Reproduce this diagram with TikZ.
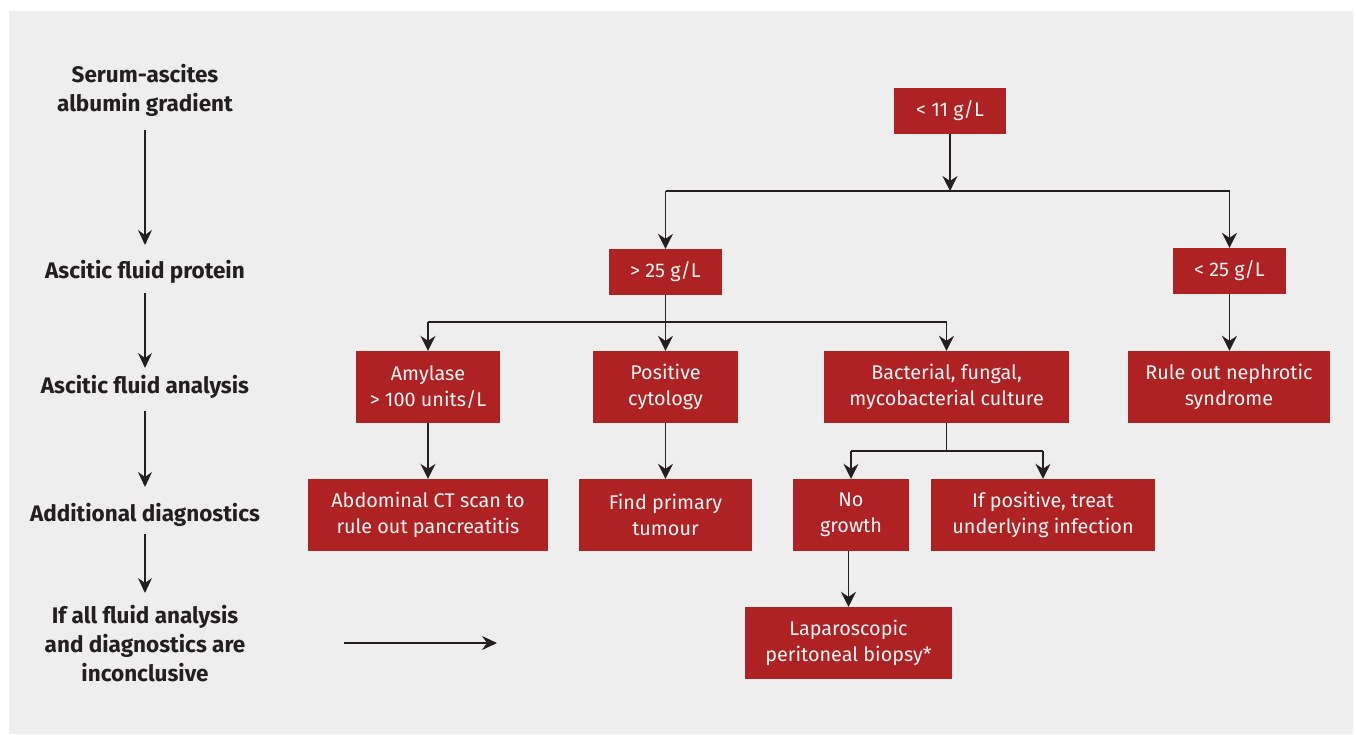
\documentclass[tikz,border=0pt]{standalone}
\usepackage{fontspec}
\setmainfont{Fira Sans}
\usetikzlibrary{arrows.meta}
\definecolor{boxred}{RGB}{175,34,35}
\definecolor{bggray}{RGB}{238,238,238}
\definecolor{ink}{RGB}{35,31,32}
\definecolor{boxtext}{RGB}{250,244,244}
\tikzset{
  redbox/.style={fill=boxred, text=boxtext, inner sep=0pt, align=center,
    font=\fontsize{19.8}{25.5}\selectfont},
  stagelabel/.style={text=ink, align=center, inner sep=0pt,
    font=\bfseries\fontsize{22.5}{29}\selectfont},
  link/.style={draw=ink, line width=1.8pt},
  arr/.style={link, -{Stealth[length=15pt,width=15pt,inset=5pt]}},
  thinarr/.style={draw=ink, line width=1.3pt, -{Stealth[length=15pt,width=14pt,inset=5pt]}},
}
\begin{document}
\begin{tikzpicture}[x=1pt,y=-1pt]
\useasboundingbox (0,0) rectangle (1356,734);
\fill[white] (0,0) rectangle (1356,734);
\fill[bggray] (9,11) rectangle (1353,734);

% stage labels
\node[stagelabel] (s1) at (145,90) {Serum-ascites\\albumin gradient};
\node[stagelabel] (s2) at (145,272) {Ascitic fluid protein};
\node[stagelabel] (s3) at (145,387) {Ascitic fluid analysis};
\node[stagelabel] (s4) at (145,515) {Additional diagnostics};
\node[stagelabel] (s5) at (145,644) {If all fluid analysis\\and diagnostics are\\inconclusive};

\coordinate (a1s) at (145,130); \coordinate (a1e) at (145,245);
\coordinate (a2s) at (145,293); \coordinate (a2e) at (145,368);
\coordinate (a3s) at (145,411); \coordinate (a3e) at (145,487);
\coordinate (a4s) at (145,534); \coordinate (a4e) at (145,593);
\coordinate (h1s) at (344,643); \coordinate (h1e) at (497,643);
\draw[thinarr] (a1s) -- (a1e);
\draw[thinarr] (a2s) -- (a2e);
\draw[thinarr] (a3s) -- (a3e);
\draw[thinarr] (a4s) -- (a4e);
\draw[thinarr] (h1s) -- (h1e);

% boxes
\node[redbox, minimum width=112pt, minimum height=46pt] (t11) at (950,111) {< 11 g/L};
\node[redbox, minimum width=113pt, minimum height=46pt] (p25) at (665.5,272) {> 25 g/L};
\node[redbox, minimum width=113pt, minimum height=46pt] (l25) at (1229.5,271) {< 25 g/L};
\node[redbox, minimum width=144pt, minimum height=72pt] (amy) at (428,387) {Amylase\\> 100 units/L};
\node[redbox, minimum width=145pt, minimum height=72pt] (cyt) at (665.5,387) {Positive\\cytology};
\node[redbox, minimum width=245pt, minimum height=72pt] (bac) at (946.5,387) {Bacterial, fungal,\\mycobacterial culture};
\node[redbox, minimum width=202pt, minimum height=72pt] (neph) at (1229,387) {Rule out nephrotic\\syndrome};
\node[redbox, minimum width=240pt, minimum height=72pt] (ct) at (428,515) {Abdominal CT scan to\\rule out pancreatitis};
\node[redbox, minimum width=173pt, minimum height=72pt] (tum) at (665.5,515) {Find primary\\tumour};
\node[redbox, minimum width=116pt, minimum height=72pt] (nog) at (851,515) {No\\growth};
\node[redbox, minimum width=224pt, minimum height=72pt] (inf) at (1043,515) {If positive, treat\\underlying infection};
\node[redbox, minimum width=207pt, minimum height=72pt] (lap) at (848.5,643) {Laparoscopic\\peritoneal biopsy*};

% connectors
\coordinate (j1) at (950,191);
\draw[arr] (t11.south) -- (j1);
\draw[link] (p25.north |- j1) -- (l25.north |- j1);
\draw[arr] (p25.north |- j1) -- (p25.north);
\draw[arr] (l25.north |- j1) -- (l25.north);

\coordinate (j2) at (665.5,322);
\draw[link] (p25.south) -- (j2);
\draw[link] (amy.north |- j2) -- (bac.north |- j2);
\draw[arr] (amy.north |- j2) -- (amy.north);
\draw[arr] (cyt.north |- j2) -- (cyt.north);
\draw[arr] (bac.north |- j2) -- (bac.north);

\draw[arr] (amy) -- (ct);
\draw[arr] (cyt) -- (tum);
\draw[arr] (l25.south) -- (l25.south |- neph.north);

\coordinate (j3) at (946.5,451);
\draw[link] (bac.south) -- (j3);
\draw[link] (nog.north |- j3) -- (inf.north |- j3);
\draw[arr] (nog.north |- j3) -- (nog.north);
\draw[arr] (inf.north |- j3) -- (inf.north);

\draw[arr] (nog.south -| lap.north) -- (lap.north);
\end{tikzpicture}
\end{document}
